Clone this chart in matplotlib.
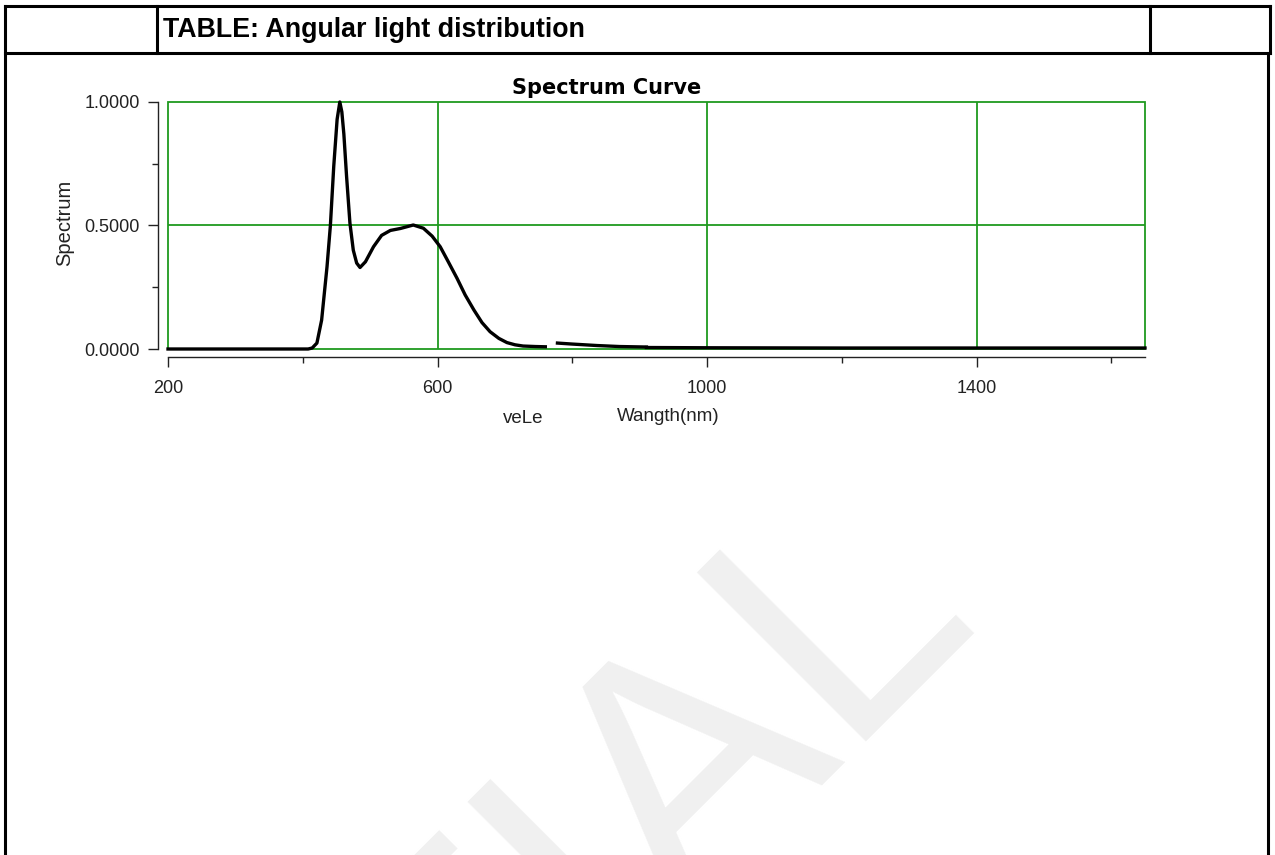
import numpy as np
import matplotlib
matplotlib.use("Agg")
import matplotlib.pyplot as plt
from matplotlib.lines import Line2D
from matplotlib.patches import Rectangle
from matplotlib.ticker import MultipleLocator, FormatStrFormatter

# spectrum (wavelength in nm, relative spectrum)
wavelength = [200, 380, 408, 414, 421, 428, 436, 441, 446, 451, 455, 458, 461, 465, 470,
              475, 480, 485, 493, 505, 517, 530, 545, 564, 579, 592, 604, 616, 629,
              641, 654, 666, 678, 691, 703, 715, 727, 745, 760]
spectrum = [0.0, 0.0, 0.0, 0.004, 0.024, 0.117, 0.333, 0.5, 0.74, 0.93, 1.0, 0.96, 0.87,
            0.70, 0.51, 0.40, 0.348, 0.33, 0.353, 0.414, 0.46, 0.48, 0.488, 0.502, 0.489,
            0.457, 0.414, 0.353, 0.286, 0.219, 0.158, 0.107, 0.07, 0.043, 0.026, 0.017,
            0.012, 0.010, 0.009]
# broken piece of the trace and the flat tail
glitch_wl = [778, 800, 837, 870, 910]
glitch_val = [0.024, 0.020, 0.014, 0.010, 0.008]
tail_wl = [910, 1000, 1200, 1400, 1650]
tail_val = [0.006, 0.005, 0.004, 0.004, 0.004]

xticks = [200, 600, 1000, 1400]
yticks = [0.0, 0.5, 1.0]

W, H = 1275, 855
def fx(px):
    return px / W
def fy(py):
    return 1 - py / H

green = "#1f9a1f"

fig = plt.figure(figsize=(12.75, 8.55), dpi=100)
fig.patch.set_facecolor("white")

# watermark (only its end shows on the page)
fig.text(fx(978), fy(612), "CONFIDENTIAL", rotation=45, rotation_mode="anchor",
         ha="right", va="baseline", fontsize=250, color="#f0f0f0",
         family="Liberation Sans", zorder=0)

# table borders
lw = 2.2
for (x0, y0, x1, y1) in [(5, 6, 1270, 6), (5, 53, 1270, 53), (5, 6, 5, 855),
                         (157, 6, 157, 53), (1150, 6, 1150, 53),
                         (1270, 6, 1270, 53), (1268, 53, 1268, 855)]:
    fig.add_artist(Line2D([fx(x0), fx(x1)], [fy(y0), fy(y1)], color="black", lw=lw,
                          solid_capstyle="projecting"))

fig.text(fx(163), fy(30), "TABLE: Angular light distribution", ha="left", va="center",
         fontsize=19.3, fontweight="bold", family="Liberation Sans")

# chart
ax = fig.add_axes([fx(168), fy(349), (1145 - 168) / W, (349 - 102) / H])
ax.set_xlim(200, 1650)
ax.set_ylim(0, 1)
ax.set_facecolor("none")

ax.add_patch(Rectangle((0, 0), 1, 1, transform=ax.transAxes, fill=False,
                       edgecolor=green, lw=1.3, clip_on=False, zorder=1))
for x in xticks[1:]:
    ax.axvline(x, color=green, lw=1.3, zorder=1)
ax.axhline(0.5, color=green, lw=1.3, zorder=1)

ax.plot(wavelength, spectrum, color="black", lw=2.4, zorder=3, clip_on=False)
ax.plot(glitch_wl, glitch_val, color="black", lw=2.4, zorder=3, clip_on=False)
ax.plot(tail_wl, tail_val, color="black", lw=2.4, zorder=3, clip_on=False)

for s in ["top", "right"]:
    ax.spines[s].set_visible(False)
ax.spines["left"].set_position(("outward", 7.5))
ax.spines["bottom"].set_position(("outward", 5.8))
for s in ["left", "bottom"]:
    ax.spines[s].set_color("#222222")
    ax.spines[s].set_linewidth(1.0)

ax.set_xticks(xticks)
ax.xaxis.set_minor_locator(MultipleLocator(200))
ax.set_yticks(yticks)
ax.yaxis.set_minor_locator(MultipleLocator(0.25))
ax.yaxis.set_major_formatter(FormatStrFormatter("%.4f"))
ax.tick_params(which="major", length=7.5, width=1.0, color="#222222",
               labelsize=13, labelcolor="#222222")
ax.tick_params(which="minor", length=4, width=1.0, color="#222222")
ax.tick_params(axis="x", which="major", pad=9)
ax.tick_params(axis="y", which="major", pad=5.5)
for lab in ax.get_xticklabels() + ax.get_yticklabels():
    lab.set_family("Liberation Sans")

fig.text(fx(607), fy(88), "Spectrum Curve", ha="center", va="center",
         fontsize=15, fontweight="bold", family="DejaVu Sans")
fig.text(fx(65), fy(223), "Spectrum", rotation=90, ha="center", va="center",
         fontsize=14.5, color="#222222", family="Liberation Sans")
fig.text(fx(503), fy(418), "veLe", ha="left", va="center", fontsize=13.5,
         color="#222222", family="Liberation Sans")
fig.text(fx(617), fy(416), "Wangth(nm)", ha="left", va="center", fontsize=13.5,
         color="#222222", family="Liberation Sans")

fig.savefig("out.png", dpi=100)
